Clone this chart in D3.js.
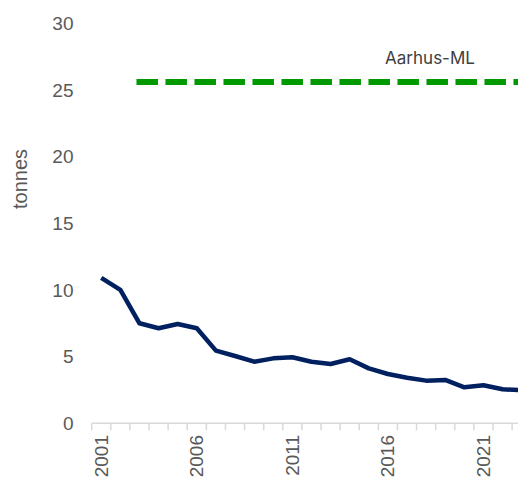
<!DOCTYPE html>
<html>
<head>
<meta charset="utf-8">
<script src="https://cdn.jsdelivr.net/npm/d3@7"></script>
<style>
  body { margin: 0; background: #fff; }
  svg { display: block; }
</style>
</head>
<body>
<script>
var lata = d3.range(2001, 2024)
var tonny = [10.9, 10.0, 7.5, 7.13, 7.45, 7.13, 5.45, 5.05, 4.62, 4.87, 4.95, 4.62, 4.45, 4.8, 4.12, 3.7, 3.42, 3.2, 3.25, 2.7, 2.85, 2.55, 2.48]
var limitLata = [2003, 2023]
var limitWartosc = 25.6
var limitNazwa = "Aarhus-ML"
var yTicki = [0, 5, 10, 15, 20, 25, 30]
var xEtykiety = [2001, 2006, 2011, 2016, 2021]

var obrazek = d3.select("body").append("svg")
  .attr("width", 518)
  .attr("height", 479)

var x = d3.scaleBand().domain(lata).range([91.7, 91.7 + 23 * 19.11]).padding(0)
var y = d3.scaleLinear().domain([0, 30]).range([423.3, 23.3])
var srodek = function(d) { return x(d) + x.bandwidth() / 2 }

// os y - tylko etykiety
var osY = obrazek.append("g")
  .attr("transform", "translate(73.5,0)")
  .call(d3.axisLeft(y).tickValues(yTicki).tickSize(0).tickPadding(0))
osY.select(".domain").remove()
osY.selectAll("text")
  .style("font-family", "Liberation Sans, Arial, sans-serif")
  .style("font-size", "19px")
  .style("fill", "#595959")

obrazek.append("text")
  .attr("transform", "translate(20,179) rotate(-90)")
  .attr("text-anchor", "middle")
  .attr("dominant-baseline", "central")
  .style("font-family", "Liberation Sans, Arial, sans-serif")
  .style("font-size", "20px")
  .style("fill", "#595959")
  .text("tonnes")

// os x
obrazek.append("line")
  .attr("x1", x(2001)).attr("x2", x(2023) + x.bandwidth())
  .attr("y1", y(0)).attr("y2", y(0))
  .style("stroke", "#d9d9d9").style("stroke-width", 1.5)

var granice = lata.map(function(d) { return x(d) }).concat([x(2023) + x.bandwidth()])
obrazek.append("g").selectAll("line")
  .data(granice)
  .enter()
  .append("line")
  .attr("x1", function(d) { return d }).attr("x2", function(d) { return d })
  .attr("y1", y(0)).attr("y2", y(0) + 7)
  .style("stroke", "#d9d9d9").style("stroke-width", 1.5)

obrazek.append("g").selectAll("text")
  .data(xEtykiety)
  .enter()
  .append("text")
  .attr("transform", function(d) { return "translate(" + srodek(d) + ",435) rotate(-90)" })
  .attr("text-anchor", "end")
  .attr("dominant-baseline", "central")
  .style("font-family", "Liberation Sans, Arial, sans-serif")
  .style("font-size", "19px")
  .style("fill", "#595959")
  .text(function(d) { return d })

// linia limitu
obrazek.append("line")
  .attr("x1", srodek(limitLata[0])).attr("x2", srodek(limitLata[1]))
  .attr("y1", y(limitWartosc)).attr("y2", y(limitWartosc))
  .style("stroke", "#009a00")
  .style("stroke-width", 6)
  .style("stroke-linecap", "square")
  .style("stroke-dasharray", "15.5,13.5")

obrazek.append("text")
  .attr("x", 430).attr("y", 64)
  .attr("text-anchor", "middle")
  .style("font-family", "Inter, sans-serif")
  .style("font-size", "17px")
  .style("fill", "#404040")
  .text(limitNazwa)

// linia danych
var linia = d3.line()
  .x(function(d, i) { return srodek(lata[i]) })
  .y(function(d) { return y(d) })

obrazek.append("path")
  .datum(tonny)
  .attr("d", linia)
  .style("fill", "none")
  .style("stroke", "#002060")
  .style("stroke-width", 4.5)
  .style("stroke-linejoin", "round")
</script>
</body>
</html>
